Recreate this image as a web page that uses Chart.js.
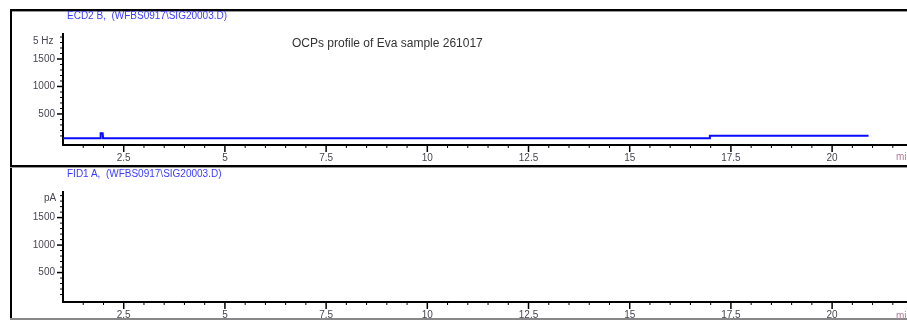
<!DOCTYPE html>
<html>
<head>
<meta charset="utf-8">
<script src="https://cdn.jsdelivr.net/npm/chart.js@4"></script>
<style>
  body { margin: 0; background: #fff; width: 907px; height: 321px; overflow: hidden; position: relative; }
  canvas { position: absolute; left: 0; }
  #cTop { top: 0; }
  #cBot { top: 166px; }
  .txt { position: absolute; white-space: nowrap; font-family: 'Liberation Sans Narrow', 'Liberation Sans', Arial, sans-serif; }
  .hdr { color: #3b3bff; font-size: 10px; }
  .unit { color: #4a4550; font-size: 10px; }
  .line { position: absolute; }
</style>
</head>
<body>
<canvas id="cTop" width="907" height="166"></canvas>
<canvas id="cBot" width="907" height="155"></canvas>

<!-- cadre -->
<div class="line" style="left:10px;top:9px;width:897px;height:2px;background:#000"></div>
<div class="line" style="left:10px;top:11px;width:897px;height:1px;background:#999"></div>
<div class="line" style="left:10px;top:9px;width:2px;height:311px;background:#000"></div>
<div class="line" style="left:10px;top:165px;width:897px;height:2px;background:#000"></div>
<div class="line" style="left:10px;top:167px;width:897px;height:1px;background:#999"></div>
<div class="line" style="left:10px;top:318px;width:897px;height:2px;background:#888"></div>

<div class="txt hdr" style="left:67px;top:10px">ECD2 B,&nbsp; (WFBS0917\SIG20003.D)</div>
<div class="txt hdr" style="left:67px;top:168px">FID1 A,&nbsp; (WFBS0917\SIG20003.D)</div>
<div class="txt" style="left:292px;top:36px;font-size:12px;color:#333">OCPs profile of Eva sample 261017</div>
<div class="txt unit" style="left:33px;top:35px">5 Hz</div>
<div class="txt unit" style="left:44px;top:192px">pA</div>
<div class="txt" style="left:896px;top:151px;font-size:10px;color:#b77a9a">min</div>
<div class="txt" style="left:896px;top:310px;font-size:10px;color:#b77a9a">min</div>

<script>
const xMajorTicks = [2.5, 5, 7.5, 10, 12.5, 15, 17.5, 20];
const yMajorTicks = [500, 1000, 1500];

// signal ECD (Hz) en fonction du temps (min)
const ecdTime = [1.0, 1.92, 1.93, 1.98, 1.99, 16.97, 16.98, 20.9];
const ecdSignal = [57, 57, 150, 150, 57, 57, 104, 104];

// signal FID (pA) : rien de visible
const fidTime = [];
const fidSignal = [];

const FONT = "'Liberation Sans Narrow', 'Liberation Sans', Arial, sans-serif";
const TICK_COLOR = '#4a4550';

// dessine les graduations (longues pour les majeures, courtes pour les mineures)
const tickMarks = {
    id: 'tickMarks',
    afterDraw(chart) {
        const { ctx, scales: { x, y } } = chart;
        ctx.save();
        ctx.strokeStyle = '#000';
        x.ticks.forEach(t => {
            const px = x.getPixelForValue(t.value);
            const major = xMajorTicks.includes(t.value);
            ctx.lineWidth = major ? 1.5 : 1;
            ctx.beginPath();
            ctx.moveTo(px, x.top);
            ctx.lineTo(px, x.top + (major ? 7 : 3));
            ctx.stroke();
        });
        y.ticks.forEach(t => {
            const py = y.getPixelForValue(t.value);
            const major = yMajorTicks.includes(t.value);
            ctx.lineWidth = major ? 1.5 : 1;
            ctx.beginPath();
            ctx.moveTo(y.right, py);
            ctx.lineTo(y.right - (major ? 6 : 3), py);
            ctx.stroke();
        });
        ctx.restore();
    }
};

function makeChart(id, time, signal, yMin, yMax, padTop, xHeight) {
    return new Chart(document.getElementById(id), {
        type: 'line',
        data: {
            datasets: [{
                data: time.map((t, i) => ({ x: t, y: signal[i] })),
                borderColor: '#0a0aff',
                borderWidth: 2,
                pointRadius: 0,
                tension: 0,
                fill: false
            }]
        },
        options: {
            responsive: false,
            animation: false,
            layout: { padding: { top: padTop, left: 0, right: 0, bottom: 0 } },
            plugins: { legend: { display: false }, tooltip: { enabled: false } },
            scales: {
                x: {
                    type: 'linear',
                    min: 1.0,
                    max: 21.85,
                    border: { color: '#000', width: 2 },
                    grid: { display: false, drawTicks: false },
                    afterBuildTicks: scale => {
                        const ticks = [];
                        for (let v = 1.5; v <= 21.5; v += 0.5) ticks.push({ value: v });
                        scale.ticks = ticks;
                    },
                    afterFit: scale => { scale.height = xHeight; },
                    ticks: {
                        autoSkip: false,
                        maxRotation: 0,
                        padding: 7,
                        color: TICK_COLOR,
                        font: { family: FONT, size: 10 },
                        callback: v => xMajorTicks.includes(v) ? String(v) : ''
                    }
                },
                y: {
                    min: yMin,
                    max: yMax,
                    border: { color: '#000', width: 2 },
                    grid: { display: false, drawTicks: false },
                    afterBuildTicks: scale => {
                        const ticks = [];
                        for (let v = 100; v <= 1900; v += 100) ticks.push({ value: v });
                        scale.ticks = ticks;
                    },
                    afterFit: scale => { scale.width = 63; },
                    ticks: {
                        autoSkip: false,
                        padding: 8,
                        color: TICK_COLOR,
                        font: { family: FONT, size: 10 },
                        callback: v => yMajorTicks.includes(v) ? String(v) : ''
                    }
                }
            }
        },
        plugins: [tickMarks]
    });
}

makeChart('cTop', ecdTime, ecdSignal, -65, 1955, 34, 21);
makeChart('cBot', fidTime, fidSignal, -36, 1966, 26, 19);
</script>
</body>
</html>
